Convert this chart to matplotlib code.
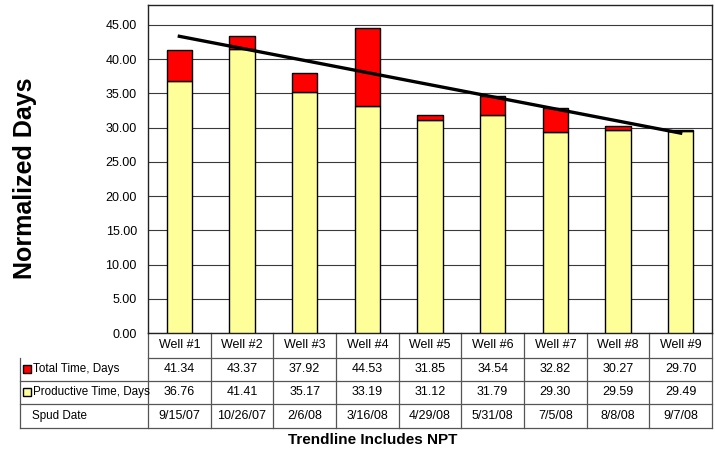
import numpy as np
import matplotlib.pyplot as plt
from matplotlib.lines import Line2D

wells = ['Well #1', 'Well #2', 'Well #3', 'Well #4', 'Well #5',
         'Well #6', 'Well #7', 'Well #8', 'Well #9']
total_days = [41.34, 43.37, 37.92, 44.53, 31.85, 34.54, 32.82, 30.27, 29.70]
productive_days = [36.76, 41.41, 35.17, 33.19, 31.12, 31.79, 29.30, 29.59, 29.49]
spud_dates = ['9/15/07', '10/26/07', '2/6/08', '3/16/08', '4/29/08',
              '5/31/08', '7/5/08', '8/8/08', '9/7/08']

FONT = ['Liberation Sans Narrow', 'Liberation Sans', 'DejaVu Sans']
plt.rcParams['font.family'] = FONT

fig = plt.figure(figsize=(7.15, 4.51), dpi=100)
ax = fig.add_axes([148 / 715, 118 / 451, 564 / 715, 328 / 451])

x = np.arange(len(wells))
total = np.array(total_days)
prod = np.array(productive_days)

ax.bar(x, prod, width=0.4, color='#FFFF99', edgecolor='black', linewidth=1, zorder=3)
ax.bar(x, total - prod, bottom=prod, width=0.4, color='#FF0000',
       edgecolor='black', linewidth=1, zorder=3)

# linear trendline on total time (like the spreadsheet)
k, b = np.polyfit(x, total, 1)
ax.plot(x, k * x + b, color='black', linewidth=2.4, zorder=4)

ax.set_xlim(-0.5, len(wells) - 0.5)
ax.set_ylim(0, 47.9)
ax.set_yticks(np.arange(0, 46, 5))
ax.set_yticklabels(['%.2f' % v for v in np.arange(0, 46, 5)], fontsize=9)
ax.tick_params(axis='y', length=0, pad=8)
ax.set_xticks([])
ax.grid(axis='y', color='#3a3a3a', linewidth=0.8, zorder=0)
for s in ax.spines.values():
    s.set_color('#222222')
    s.set_linewidth(1)

fig.text(25 / 715, 0.604, 'Normalized Days', rotation=90, ha='center', va='center',
         fontsize=18, fontweight='bold', family=['Liberation Sans', 'DejaVu Sans'])

# data table below the chart
tr = ax.get_xaxis_transform()
rows = [-0.0762, -0.146, -0.2165, -0.2896]
centers = [-0.038, -0.111, -0.181, -0.253]
left = -2.54
right = len(wells) - 0.5
line_kw = dict(transform=tr, color='#555555', linewidth=0.9, clip_on=False)

ax.add_line(Line2D([-0.5, right], [rows[0], rows[0]], **line_kw))
for r in rows[1:]:
    ax.add_line(Line2D([left, right], [r, r], **line_kw))
ax.add_line(Line2D([left, left], [rows[0], rows[-1]], **line_kw))
for i in range(len(wells) + 1):
    xb = i - 0.5
    ax.add_line(Line2D([xb, xb], [0, rows[-1]], **line_kw))

fs = 9
for i in range(len(wells)):
    ax.text(i, centers[0], wells[i], transform=tr, ha='center', va='center', fontsize=fs)
    ax.text(i, centers[1], '%.2f' % total_days[i], transform=tr, ha='center', va='center', fontsize=fs)
    ax.text(i, centers[2], '%.2f' % productive_days[i], transform=tr, ha='center', va='center', fontsize=fs)
    ax.text(i, centers[3], spud_dates[i], transform=tr, ha='center', va='center', fontsize=fs)

lfs = 8.4
ax.plot([left + 0.11], [centers[1]], marker='s', markersize=5.5, color='#FF0000',
        markeredgecolor='black', markeredgewidth=1, transform=tr, clip_on=False)
ax.plot([left + 0.11], [centers[2]], marker='s', markersize=5.5, color='#FFFF99',
        markeredgecolor='black', markeredgewidth=1, transform=tr, clip_on=False)
ax.text(left + 0.2, centers[1], 'Total Time, Days', transform=tr, ha='left', va='center', fontsize=lfs)
ax.text(left + 0.2, centers[2], 'Productive Time, Days', transform=tr, ha='left', va='center', fontsize=lfs)
ax.text(left + 0.19, centers[3], 'Spud Date', transform=tr, ha='left', va='center', fontsize=lfs)

fig.text(373 / 715, 11 / 451, 'Trendline Includes NPT', ha='center', va='center',
         fontsize=11, fontweight='bold')

fig.savefig('out.png', dpi=100)
